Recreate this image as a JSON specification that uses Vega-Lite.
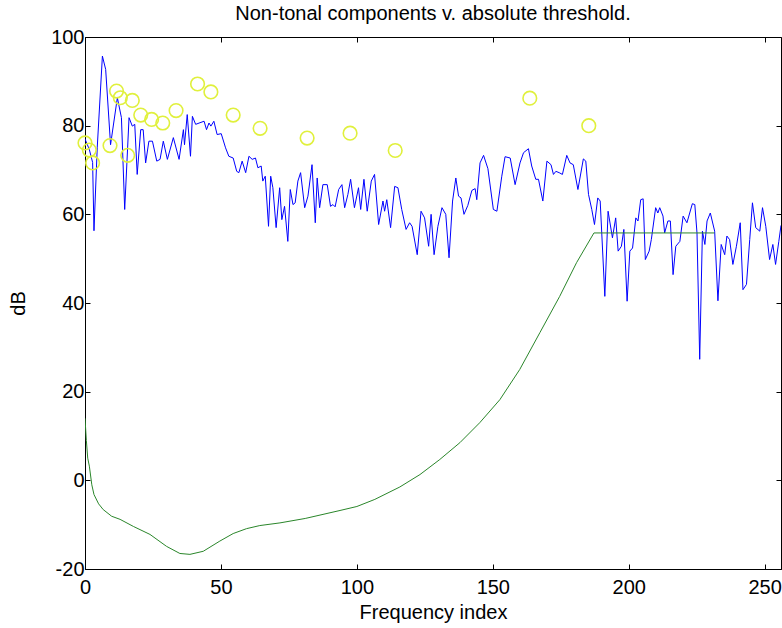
{
  "$schema": "https://vega.github.io/schema/vega-lite/v6.json",
  "width": 696,
  "height": 532,
  "autosize": {"type": "none"},
  "padding": {"left": 85, "top": 37, "right": 1, "bottom": 59},
  "background": "white",
  "title": {"text": "Non-tonal components v. absolute threshold.", "font": "Liberation Sans", "fontSize": 20, "fontWeight": "normal", "color": "black", "offset": 3, "anchor": "middle"},
  "config": {
    "view": {"stroke": "black", "strokeWidth": 1},
    "axis": {"labelFont": "Liberation Sans", "titleFont": "Liberation Sans", "labelFontSize": 20, "titleFontSize": 20, "titleFontWeight": "normal", "labelColor": "black", "titleColor": "black", "domainColor": "black", "tickColor": "black", "grid": false}
  },
  "datasets": {
    "nontonal": [
      {"i":0,"db":77},{"i":1.6,"db":74.6},{"i":2.8,"db":71.7},{"i":3.3,"db":56.3},{"i":4.5,"db":75},{"i":6.4,"db":95.7},{"i":7.6,"db":92.7},{"i":9.4,"db":75.7},{"i":11.9,"db":86.3},{"i":13.4,"db":81.8},{"i":14.6,"db":61.1},{"i":16.2,"db":81.8},{"i":17.4,"db":79.9},{"i":18.3,"db":80.3},{"i":19.2,"db":69},{"i":20.5,"db":79.1},{"i":21.4,"db":79.1},{"i":22.3,"db":71.6},{"i":23.5,"db":76.5},{"i":24.8,"db":76.5},{"i":26.4,"db":72},{"i":27.6,"db":72.4},{"i":28.8,"db":76.5},{"i":30.3,"db":72.4},{"i":32.5,"db":77.3},{"i":34.6,"db":72.4},{"i":36.2,"db":79.1},{"i":36.6,"db":75.7},{"i":37.6,"db":82.5},{"i":38.8,"db":73.1},{"i":39.5,"db":82.1},{"i":40.7,"db":80.3},{"i":43.8,"db":81},{"i":44.7,"db":79.1},{"i":45.6,"db":80.6},{"i":46.3,"db":79.9},{"i":47.4,"db":81},{"i":48.6,"db":78},{"i":50.1,"db":78.2},{"i":51.7,"db":75},{"i":52.9,"db":73.1},{"i":54.5,"db":72.7},{"i":55.8,"db":69.7},{"i":56.6,"db":69.4},{"i":57.8,"db":72},{"i":59.1,"db":69.4},{"i":60.3,"db":73.1},{"i":61.5,"db":72.4},{"i":62.7,"db":72.7},{"i":63.6,"db":70.5},{"i":64.8,"db":70.9},{"i":65.4,"db":67.5},{"i":66.3,"db":68.6},{"i":67.5,"db":57.3},{"i":68.3,"db":68.6},{"i":69.1,"db":66},{"i":70.3,"db":57},{"i":71.6,"db":66},{"i":72.4,"db":58.8},{"i":73.4,"db":61.8},{"i":74.6,"db":53.9},{"i":75.5,"db":65.6},{"i":76.5,"db":62.2},{"i":77.3,"db":62.6},{"i":78.3,"db":67.5},{"i":79.3,"db":69.4},{"i":80.8,"db":61.5},{"i":82,"db":64.1},{"i":83.5,"db":71.2},{"i":84.7,"db":58.1},{"i":85.4,"db":68.2},{"i":86.3,"db":61.5},{"i":87.5,"db":66.7},{"i":89.1,"db":66.7},{"i":90.3,"db":61.8},{"i":91.2,"db":62.2},{"i":92,"db":61.7},{"i":93.3,"db":65.6},{"i":94.5,"db":66.7},{"i":95.5,"db":61.5},{"i":96.7,"db":64.5},{"i":97.7,"db":67.9},{"i":99.1,"db":61.5},{"i":100.6,"db":66},{"i":101.4,"db":61.1},{"i":102.6,"db":67.9},{"i":103.8,"db":60.7},{"i":105.3,"db":67.5},{"i":106.5,"db":69},{"i":108,"db":57.7},{"i":109.6,"db":63},{"i":110.2,"db":60.7},{"i":111,"db":63.3},{"i":112.4,"db":57},{"i":113.9,"db":66.3},{"i":115.1,"db":66},{"i":116.5,"db":61.1},{"i":118.1,"db":56.6},{"i":119.4,"db":58.1},{"i":120.3,"db":57.3},{"i":122.2,"db":50.9},{"i":123.6,"db":60.7},{"i":124.9,"db":59.2},{"i":126.4,"db":52.8},{"i":127.3,"db":60},{"i":128.4,"db":50.9},{"i":129.8,"db":57.3},{"i":131.3,"db":61.5},{"i":132.7,"db":60},{"i":133.9,"db":50.2},{"i":135.2,"db":63},{"i":136.4,"db":68.2},{"i":137.4,"db":64.1},{"i":138.3,"db":63.7},{"i":139.4,"db":60},{"i":140.8,"db":62},{"i":142.3,"db":65.4},{"i":143.5,"db":65.8},{"i":144.1,"db":63.3},{"i":145.3,"db":71.6},{"i":146.6,"db":73.3},{"i":148.2,"db":70.3},{"i":150.2,"db":61.1},{"i":151.5,"db":60.7},{"i":153.3,"db":68.6},{"i":154.5,"db":73},{"i":156.4,"db":72.7},{"i":158.2,"db":66.7},{"i":160,"db":71.6},{"i":161.3,"db":73.9},{"i":163.1,"db":74.8},{"i":164.3,"db":70.9},{"i":165.8,"db":67.9},{"i":166.8,"db":67.9},{"i":168.4,"db":63},{"i":169.9,"db":72},{"i":171.4,"db":71.2},{"i":172.3,"db":69},{"i":173.2,"db":69.7},{"i":174.4,"db":69.4},{"i":175.6,"db":69},{"i":177.2,"db":73.3},{"i":178.4,"db":71.6},{"i":179.6,"db":71.2},{"i":181.3,"db":65.6},{"i":183.3,"db":72.5},{"i":184.2,"db":72},{"i":185.2,"db":64.5},{"i":186.4,"db":61.1},{"i":187.4,"db":57.7},{"i":188.6,"db":63.7},{"i":189.5,"db":63},{"i":191.2,"db":41.5},{"i":192.4,"db":60.7},{"i":194,"db":54.7},{"i":195.2,"db":59.2},{"i":196.1,"db":51.7},{"i":197.3,"db":52.8},{"i":198.2,"db":56.6},{"i":199.4,"db":40.4},{"i":200.4,"db":51.7},{"i":201.4,"db":52.4},{"i":202.6,"db":59.2},{"i":203.4,"db":58.5},{"i":204.4,"db":63.3},{"i":205.3,"db":63.5},{"i":206.1,"db":49.8},{"i":207.5,"db":51.7},{"i":208.3,"db":54.3},{"i":209.9,"db":61.5},{"i":210.7,"db":60.3},{"i":211.4,"db":61.5},{"i":212.6,"db":59.6},{"i":213.2,"db":55.8},{"i":214.4,"db":58.5},{"i":215.3,"db":58.5},{"i":216.3,"db":46.4},{"i":217.3,"db":52.8},{"i":218.8,"db":53.9},{"i":220,"db":59.6},{"i":221.4,"db":58.1},{"i":223.4,"db":62.4},{"i":224.3,"db":62.2},{"i":225.1,"db":55.8},{"i":226.1,"db":27.3},{"i":227.1,"db":56.2},{"i":228,"db":53.2},{"i":228.8,"db":58.5},{"i":230,"db":60.3},{"i":231.6,"db":56.2},{"i":232.8,"db":40.5},{"i":234,"db":53.2},{"i":235.3,"db":50.9},{"i":236.1,"db":55.1},{"i":237.1,"db":54.3},{"i":238.3,"db":48.7},{"i":239.6,"db":52.8},{"i":241,"db":58.1},{"i":242,"db":43},{"i":243.3,"db":44.2},{"i":244.5,"db":54.3},{"i":245.5,"db":62.6},{"i":246.7,"db":57},{"i":248.2,"db":56.2},{"i":249.2,"db":61.5},{"i":250.4,"db":57.3},{"i":251.8,"db":49.8},{"i":253,"db":53.2},{"i":254,"db":48.7},{"i":255.2,"db":53.9},{"i":256,"db":57.5}
    ],
    "threshold": [
      {"i":0,"db":14},{"i":0.5,"db":9},{"i":1,"db":5},{"i":1.6,"db":3.2},{"i":2.5,"db":-1},{"i":3.3,"db":-3.2},{"i":5,"db":-5.3},{"i":6.7,"db":-6.6},{"i":9.8,"db":-8.1},{"i":12.9,"db":-8.8},{"i":17.8,"db":-10.4},{"i":23.9,"db":-12.2},{"i":30,"db":-14.9},{"i":34.9,"db":-16.5},{"i":38.6,"db":-16.7},{"i":43.5,"db":-16},{"i":49.6,"db":-13.7},{"i":54.5,"db":-12},{"i":59.4,"db":-10.9},{"i":64.3,"db":-10.2},{"i":71.7,"db":-9.6},{"i":81,"db":-8.6},{"i":93.8,"db":-6.8},{"i":100,"db":-5.9},{"i":106.6,"db":-4.3},{"i":115.8,"db":-1.5},{"i":123.2,"db":1.3},{"i":130.5,"db":4.7},{"i":137.9,"db":8.5},{"i":145.2,"db":13},{"i":152.6,"db":18.2},{"i":159.9,"db":25},{"i":167.3,"db":33.3},{"i":174.6,"db":41.5},{"i":180.8,"db":49.1},{"i":187.2,"db":55.8},{"i":231.5,"db":55.8}
    ],
    "components": [
      {"i":0,"db":76.1},{"i":1.6,"db":74.5},{"i":2.8,"db":71.6},{"i":9.2,"db":75.5},{"i":11.6,"db":87.8},{"i":13,"db":86.3},{"i":15.7,"db":73.3},{"i":17.4,"db":85.7},{"i":20.5,"db":82.4},{"i":24.5,"db":81.4},{"i":28.6,"db":80.6},{"i":33.5,"db":83.4},{"i":41.4,"db":89.4},{"i":46.3,"db":87.6},{"i":54.5,"db":82.4},{"i":64.4,"db":79.4},{"i":81.7,"db":77.2},{"i":97.5,"db":78.3},{"i":114.1,"db":74.4},{"i":163.6,"db":86.2},{"i":185.3,"db":80}
    ]
  },
  "resolve": {"axis": {"x": "independent", "y": "independent"}},
  "layer": [
    {
      "data": {"name": "nontonal"},
      "mark": {"type": "line", "color": "#0000ff", "strokeWidth": 1, "clip": true},
      "encoding": {
        "x": {"field": "i", "type": "quantitative", "scale": {"domain": [0, 256], "nice": false, "zero": false},
              "axis": {"title": "Frequency index", "values": [0,50,100,150,200,250], "tickSize": -5, "labelPadding": 13, "titlePadding": 5, "labelFlush": false}},
        "y": {"field": "db", "type": "quantitative", "scale": {"domain": [-20, 100], "nice": false, "zero": false},
              "axis": {"title": "dB", "values": [-20,0,20,40,60,80,100], "tickSize": -5, "labelPadding": 6, "titlePadding": 22, "labelExpr": "toString(datum.value)"}}
      }
    },
    {
      "data": {"name": "threshold"},
      "mark": {"type": "line", "color": "#2a862a", "strokeWidth": 1, "clip": true},
      "encoding": {
        "x": {"field": "i", "type": "quantitative", "axis": {"orient": "top", "title": null, "labels": false, "domain": false, "values": [0,50,100,150,200,250], "tickSize": -5}},
        "y": {"field": "db", "type": "quantitative", "axis": {"orient": "right", "title": null, "labels": false, "domain": false, "values": [-20,0,20,40,60,80,100], "tickSize": -5}}
      }
    },
    {
      "data": {"name": "components"},
      "mark": {"type": "point", "shape": "circle", "filled": false, "color": "#e0f03c", "strokeWidth": 1.6, "size": 185, "opacity": 1},
      "encoding": {
        "x": {"field": "i", "type": "quantitative", "axis": null},
        "y": {"field": "db", "type": "quantitative", "axis": null}
      }
    }
  ]
}
